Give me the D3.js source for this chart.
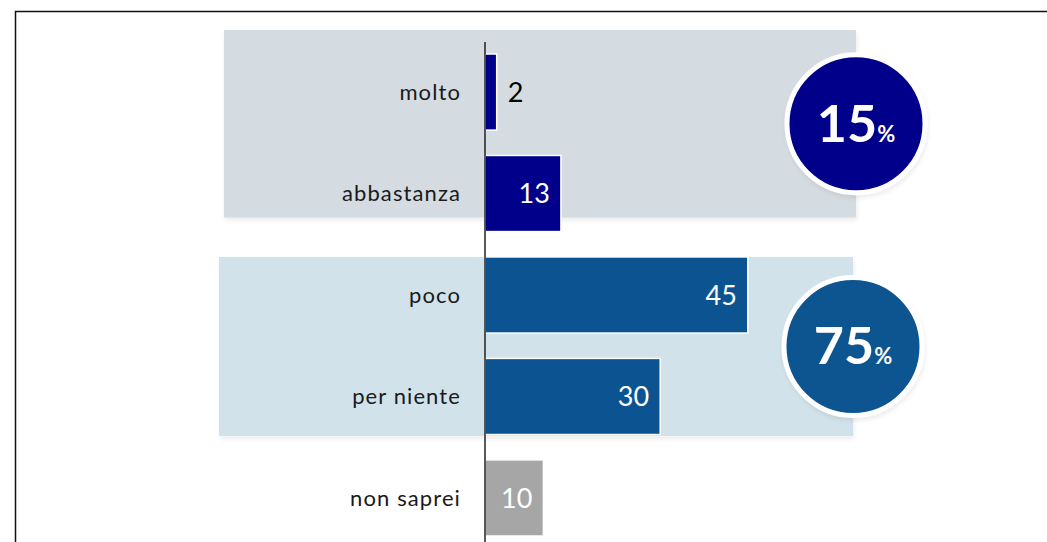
<!DOCTYPE html>
<meta charset="utf-8">
<style>
body { margin: 0; background: #fff; }
.label { font: 22px Lato, sans-serif; letter-spacing: 1.1px; fill: #1a1a1a; text-anchor: end; }
.value { font: 27px Lato, sans-serif; }
.total { font-family: Lato, sans-serif; font-weight: bold; fill: #fff; }
</style>
<body>
<script src="https://cdn.jsdelivr.net/npm/d3@7"></script>
<script>

var width = 1047,
    height = 542;

// data
var categories = ["molto", "abbastanza", "poco", "per niente", "non saprei"];
var values = [2, 13, 45, 30, 10];
var barColors = ["#00008b", "#00008b", "#0b5491", "#0b5491", "#a6a6a6"];

var groupNames = ["fiducia", "sfiducia"];
var groupMembers = [["molto", "abbastanza"], ["poco", "per niente"]];
var groupTotals = [15, 75];
var groupColors = ["#00008b", "#0b5491"];
var groupFills = ["#d4dce2", "#d2e2ea"];

var data = categories.map(function(c, i) {
  return { cat: c, value: values[i], color: barColors[i] };
});

var svg = d3.select("body").append("svg")
    .attr("width", width)
    .attr("height", height);

var defs = svg.append("defs");
defs.append("filter")
    .attr("id", "shadow")
    .attr("x", "-5%").attr("y", "-5%")
    .attr("width", "110%").attr("height", "120%")
  .append("feDropShadow")
    .attr("dx", 1).attr("dy", 3)
    .attr("stdDeviation", 2)
    .attr("flood-color", "#000")
    .attr("flood-opacity", 0.07);

// outer frame (only top and left visible in the crop)
svg.append("rect")
    .attr("x", 15.5).attr("y", 11.5)
    .attr("width", 1100).attr("height", 600)
    .attr("fill", "none")
    .attr("stroke", "#111")
    .attr("stroke-width", 1.5);

var x = d3.scaleLinear()
    .domain([0, 100])
    .range([485, 485 + 584]);

var y = d3.scaleBand()
    .domain(categories)
    .range([54, 536])
    .paddingInner(0.25)
    .paddingOuter(0);

// group bands: edges and offsets from the first/last bar of each group
var bandBox = [
  { left: 224, right: 856, top: -24, bottom: -14 },
  { left: 219, right: 853, top: 0, bottom: 1.5 }
];

var groups = groupNames.map(function(n, i) {
  var first = groupMembers[i][0],
      last = groupMembers[i][groupMembers[i].length - 1];
  var y0 = y(first) + bandBox[i].top,
      y1 = y(last) + y.bandwidth() + bandBox[i].bottom;
  return { name: n, total: groupTotals[i], color: groupColors[i], fill: groupFills[i],
           x0: bandBox[i].left, x1: bandBox[i].right, y0: y0, y1: y1 };
});

svg.selectAll(".band")
    .data(groups)
  .enter().append("rect")
    .attr("class", "band")
    .attr("x", function(d) { return d.x0; })
    .attr("y", function(d) { return d.y0; })
    .attr("width", function(d) { return d.x1 - d.x0; })
    .attr("height", function(d) { return d.y1 - d.y0; })
    .attr("fill", function(d) { return d.fill; })
    .attr("filter", "url(#shadow)");

// bars
svg.selectAll(".bar")
    .data(data)
  .enter().append("rect")
    .attr("class", "bar")
    .attr("x", x(0))
    .attr("y", function(d) { return y(d.cat); })
    .attr("width", function(d) { return x(d.value) - x(0); })
    .attr("height", y.bandwidth())
    .attr("fill", function(d) { return d.color; })
    .attr("stroke", "#fff")
    .attr("stroke-width", 1.5);

// axis line
svg.append("line")
    .attr("x1", x(0)).attr("x2", x(0))
    .attr("y1", 42).attr("y2", height)
    .attr("stroke", "#222")
    .attr("stroke-width", 1.5);

// category labels
svg.selectAll(".label")
    .data(data)
  .enter().append("text")
    .attr("class", "label")
    .attr("x", x(0) - 24)
    .attr("y", function(d) { return y(d.cat) + y.bandwidth() / 2; })
    .attr("dy", "0.35em")
    .text(function(d) { return d.cat; });

// value labels
svg.selectAll(".value")
    .data(data)
  .enter().append("text")
    .attr("class", "value")
    .attr("x", function(d) { return d.value < 5 ? x(d.value) + 11 : x(d.value) - 11; })
    .attr("y", function(d) { return y(d.cat) + y.bandwidth() / 2; })
    .attr("dy", "0.36em")
    .attr("text-anchor", function(d) { return d.value < 5 ? "start" : "end"; })
    .attr("fill", function(d) { return d.value < 5 ? "#000" : "#fff"; })
    .text(function(d) { return d.value; });

// total circles
var g = svg.selectAll(".totalg")
    .data(groups)
  .enter().append("g")
    .attr("class", "totalg")
    .attr("transform", function(d) { return "translate(" + d.x1 + "," + (d.y0 + d.y1) / 2 + ")"; });

g.append("circle")
    .attr("r", 69)
    .attr("fill", function(d) { return d.color; })
    .attr("stroke", "#fff")
    .attr("stroke-width", 5)
    .attr("filter", "url(#shadow)");

var t = g.append("text")
    .attr("class", "total")
    .attr("text-anchor", "middle")
    .attr("y", 18);
t.append("tspan")
    .attr("font-size", 52)
    .text(function(d) { return d.total; });
t.append("tspan")
    .attr("font-size", 22)
    .text("%");

</script>
</body>
